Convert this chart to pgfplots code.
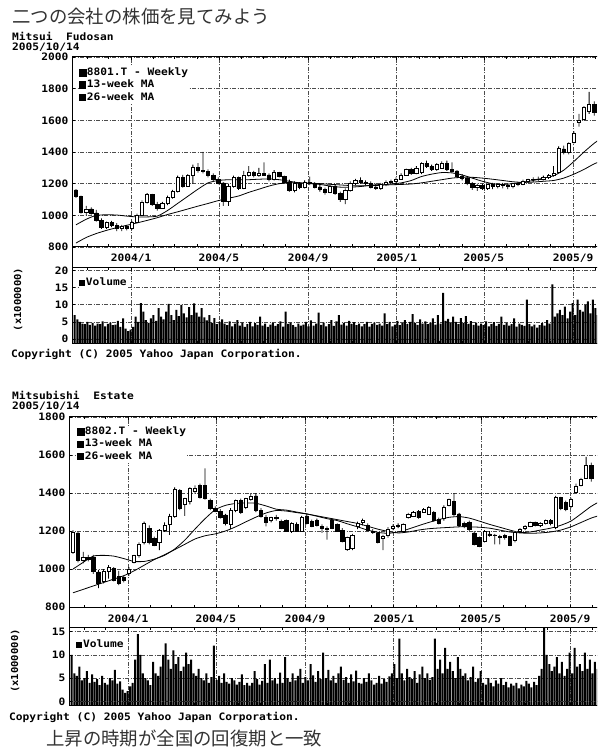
\documentclass[border=0pt]{standalone}
\usepackage{pgfplots}
\pgfplotsset{compat=1.18}
\usepackage{pgfplotstable}
\usepackage{fontspec}
\setmainfont{DejaVu Sans Mono}
\newfontfamily\monof{DejaVu Sans Mono}[FakeStretch=1.1]
\newfontfamily\jp{Noto Sans CJK JP}
\newcommand\mono{\monof\fontsize{10.2}{10.2}\selectfont\bfseries}
\definecolor{gridc}{gray}{0.3}

% ---------- 8801.T weekly candles (open high low close), one row per week from 2003/10/17
\pgfplotstableread{
o h l c
1160 1165 1110 1120
1120 1125 1010 1020
1020 1060 1000 1040
1040 1050 1005 1015
1015 1035 960 970
970 980 915 925
925 960 915 955
955 965 925 935
935 950 900 915
915 940 900 930
930 940 905 915
915 965 910 955
955 1010 950 1000
1000 1095 995 1085
1085 1140 1075 1130
1130 1135 1060 1070
1070 1085 1030 1045
1045 1085 1040 1075
1075 1125 1065 1115
1115 1160 1105 1150
1150 1250 1145 1240
1240 1255 1175 1185
1185 1260 1180 1250
1250 1320 1200 1305
1305 1330 1270 1285
1285 1400 1265 1275
1275 1290 1240 1250
1250 1265 1215 1225
1225 1240 1195 1205
1205 1210 1060 1090
1090 1200 1060 1185
1185 1250 1175 1240
1240 1245 1160 1170
1170 1280 1165 1255
1255 1310 1245 1270
1270 1280 1240 1250
1250 1300 1245 1265
1265 1335 1250 1255
1255 1265 1215 1225
1225 1285 1220 1270
1270 1275 1240 1245
1245 1250 1200 1210
1210 1225 1150 1160
1160 1215 1145 1200
1200 1210 1165 1175
1175 1220 1170 1210
1210 1245 1190 1200
1200 1210 1170 1180
1180 1195 1150 1165
1165 1175 1130 1145
1145 1195 1140 1185
1185 1195 1130 1140
1140 1150 1085 1100
1100 1170 1070 1160
1160 1215 1150 1205
1205 1230 1190 1220
1220 1240 1200 1210
1210 1220 1190 1200
1200 1215 1170 1180
1180 1200 1160 1170
1170 1205 1160 1195
1195 1220 1185 1210
1210 1225 1200 1215
1215 1240 1205 1230
1230 1265 1225 1255
1255 1295 1250 1290
1290 1300 1255 1265
1265 1310 1260 1300
1270 1335 1260 1330
1330 1345 1300 1310
1310 1320 1280 1290
1290 1330 1280 1320
1300 1340 1295 1330
1330 1345 1280 1290
1290 1335 1270 1280
1280 1285 1235 1245
1245 1260 1220 1235
1235 1245 1190 1200
1200 1210 1160 1175
1175 1200 1155 1190
1190 1200 1160 1170
1170 1200 1160 1195
1195 1205 1165 1185
1185 1200 1170 1195
1195 1205 1170 1190
1190 1200 1165 1185
1185 1205 1170 1200
1200 1210 1185 1195
1195 1225 1190 1215
1215 1230 1205 1225
1225 1240 1210 1230
1230 1245 1215 1225
1225 1250 1220 1240
1240 1260 1230 1250
1255 1310 1245 1265
1270 1435 1265 1425
1420 1440 1385 1400
1395 1460 1385 1455
1460 1530 1455 1520
1585 1640 1560 1600
1605 1690 1600 1680
1660 1780 1640 1700
1700 1720 1630 1650
}\mfA

\pgfplotstableread{
k m
0 940
2 975
4 1000
6 1003
8 1002
10 995
12 990
14 990
16 995
18 1030
20 1075
22 1120
24 1165
26 1205
28 1220
30 1225
32 1225
34 1225
36 1228
38 1230
40 1225
42 1215
44 1205
46 1200
48 1195
50 1185
52 1178
54 1178
56 1182
58 1190
60 1195
62 1198
64 1205
66 1220
68 1245
70 1260
72 1270
74 1268
76 1255
78 1235
80 1215
82 1200
84 1195
86 1200
88 1210
90 1220
92 1235
94 1250
96 1285
98 1340
100 1400
102 1455
104 1500
}\mfS

\pgfplotstableread{
k m
0 825
2 860
4 885
6 905
8 922
10 937
12 952
14 968
16 985
18 1005
20 1022
22 1040
24 1058
26 1075
28 1093
30 1108
32 1122
34 1145
36 1165
38 1185
40 1200
42 1205
44 1205
46 1203
48 1200
50 1196
52 1192
54 1188
56 1186
58 1187
60 1190
62 1193
64 1195
66 1198
68 1205
70 1215
72 1225
74 1235
76 1240
78 1240
80 1235
82 1228
84 1220
86 1212
88 1208
90 1210
92 1215
94 1220
96 1235
98 1260
100 1290
102 1325
104 1350
}\mfL

% volume 8801 (millions), two values per week
\pgfplotstableread[header=false,row sep=\\]{
5.5\\4.2\\3.5\\3.0\\2.8\\3.5\\2.6\\3.2\\2.4\\3.0\\
2.8\\3.6\\2.2\\2.9\\3.3\\2.5\\2.7\\3.8\\2.0\\4.5\\
1.5\\0.8\\1.2\\2.0\\5.0\\3.5\\9.0\\6.5\\4.0\\3.2\\
4.5\\5.5\\3.8\\7.5\\5.0\\4.2\\6.5\\8.8\\5.5\\4.0\\
7.0\\5.2\\8.5\\6.0\\4.8\\7.8\\5.5\\8.9\\6.2\\5.0\\
7.5\\4.8\\3.9\\5.5\\3.2\\4.6\\2.8\\3.5\\4.2\\3.0\\
2.5\\3.6\\2.2\\3.0\\4.0\\2.4\\3.3\\2.0\\2.8\\3.5\\
2.2\\3.1\\2.6\\5.0\\2.4\\3.0\\2.0\\2.7\\3.2\\2.3\\
2.8\\3.6\\2.1\\6.5\\2.9\\3.3\\2.5\\2.0\\3.0\\2.4\\
2.7\\3.5\\2.2\\3.9\\2.4\\3.0\\6.2\\2.6\\3.3\\2.2\\
2.8\\4.0\\2.3\\3.6\\5.5\\2.7\\3.2\\2.4\\3.8\\2.9\\
3.4\\2.5\\3.0\\2.2\\2.8\\3.5\\2.1\\2.9\\3.3\\2.6\\
3.0\\2.4\\6.0\\2.8\\3.5\\2.2\\2.7\\3.8\\2.5\\3.1\\
4.0\\2.9\\3.5\\5.8\\3.2\\2.6\\4.2\\3.0\\3.6\\2.8\\
3.3\\4.5\\2.7\\5.5\\3.0\\12.0\\3.8\\4.4\\3.1\\5.0\\
3.5\\2.8\\4.6\\3.2\\5.2\\2.9\\3.7\\2.6\\3.3\\2.4\\
3.0\\2.5\\3.6\\2.2\\2.8\\3.4\\2.3\\2.9\\5.0\\2.6\\
3.2\\2.4\\2.8\\4.5\\2.1\\3.0\\2.6\\2.3\\10.0\\2.8\\
2.2\\2.7\\1.8\\2.5\\3.2\\2.4\\4.0\\3.0\\14.5\\5.0\\
6.0\\7.0\\5.5\\8.0\\4.5\\6.5\\9.0\\5.5\\10.0\\7.0\\
6.5\\8.5\\9.5\\6.0\\10.0\\7.5\\5.5\\8.0\\
}\volA

% ---------- 8802.T weekly candles
\pgfplotstableread{
o h l c
1090 1205 1080 1195
1190 1195 1035 1045
1045 1090 1030 1060
1060 1075 1040 1050
1060 1075 975 990
985 995 900 925
935 1000 925 990
990 1020 950 1010
1005 1010 935 940
960 990 915 925
955 965 930 940
975 1010 965 1000
1035 1075 1030 1070
1070 1140 1060 1130
1140 1250 1130 1240
1215 1230 1130 1140
1160 1170 1120 1125
1140 1210 1100 1205
1205 1245 1195 1230
1235 1290 1180 1275
1275 1430 1270 1420
1415 1420 1310 1320
1340 1375 1280 1370
1355 1430 1340 1425
1410 1440 1395 1425
1440 1450 1370 1380
1440 1530 1365 1370
1360 1370 1310 1318
1320 1330 1300 1305
1305 1315 1265 1270
1285 1290 1230 1240
1235 1320 1210 1310
1310 1365 1300 1360
1360 1370 1290 1300
1325 1375 1315 1370
1365 1400 1360 1385
1385 1400 1300 1310
1310 1320 1270 1280
1270 1285 1225 1245
1255 1275 1245 1270
1270 1285 1255 1265
1250 1260 1210 1215
1255 1260 1195 1200
1200 1245 1190 1240
1235 1245 1195 1200
1200 1280 1195 1270
1280 1290 1235 1240
1250 1260 1220 1225
1255 1265 1225 1230
1225 1235 1190 1215
1215 1225 1155 1210
1255 1265 1210 1215
1235 1240 1195 1200
1205 1215 1140 1145
1105 1170 1095 1165
1110 1185 1100 1180
1225 1250 1210 1240
1245 1265 1230 1255
1230 1240 1200 1205
1200 1210 1185 1195
1190 1195 1135 1140
1160 1180 1100 1170
1175 1220 1165 1210
1215 1235 1205 1225
1225 1240 1215 1230
1200 1240 1195 1235
1270 1295 1265 1290
1280 1305 1275 1300
1305 1310 1265 1270
1300 1320 1295 1315
1290 1330 1285 1325
1300 1305 1250 1255
1260 1270 1235 1240
1265 1335 1255 1325
1335 1370 1330 1365
1355 1400 1280 1290
1290 1295 1220 1230
1240 1250 1215 1225
1245 1255 1200 1210
1190 1200 1125 1130
1165 1170 1115 1120
1145 1205 1140 1200
1185 1200 1170 1175
1180 1185 1130 1175
1170 1180 1130 1165
1175 1185 1155 1165
1170 1175 1120 1125
1150 1200 1140 1195
1200 1215 1195 1210
1215 1230 1205 1225
1225 1250 1220 1245
1245 1250 1225 1230
1230 1245 1220 1240
1240 1260 1235 1255
1255 1262 1230 1240
1220 1385 1210 1380
1375 1380 1310 1320
1350 1360 1305 1315
1330 1375 1320 1365
1405 1450 1400 1435
1440 1480 1435 1470
1480 1590 1475 1545
1545 1560 1460 1475
}\meA

\pgfplotstableread{
k m
0 1000
2 1035
4 1068
6 1072
8 1068
10 1055
12 1040
14 1040
16 1052
18 1072
20 1105
22 1152
24 1210
26 1265
28 1312
30 1335
32 1345
34 1348
36 1346
38 1332
40 1315
42 1310
44 1300
46 1290
48 1278
50 1265
52 1255
54 1238
56 1222
58 1205
60 1193
62 1188
64 1195
66 1210
68 1228
70 1245
72 1260
74 1272
76 1276
78 1268
80 1252
82 1235
84 1220
86 1205
88 1192
90 1195
92 1205
94 1215
96 1230
98 1252
100 1290
102 1330
104 1360
}\meS

\pgfplotstableread{
k m
0 875
2 893
4 911
6 929
8 947
10 965
12 990
14 1020
16 1050
18 1075
20 1102
22 1130
24 1158
26 1175
28 1185
30 1200
32 1222
34 1248
36 1273
38 1295
40 1308
42 1305
44 1297
46 1290
48 1280
50 1270
52 1260
54 1250
56 1240
58 1225
60 1210
62 1198
64 1190
66 1195
68 1205
70 1212
72 1216
74 1219
76 1222
78 1222
80 1220
82 1215
84 1205
86 1195
88 1190
90 1188
92 1190
94 1195
96 1205
98 1222
100 1245
102 1268
104 1285
}\meL

\pgfplotstableread[header=false,row sep=\\]{
9.0\\5.0\\4.5\\6.5\\3.5\\4.0\\5.5\\3.0\\4.8\\3.2\\
3.8\\2.5\\4.5\\3.0\\2.6\\4.0\\3.5\\5.8\\2.8\\3.3\\
1.5\\0.8\\1.2\\2.2\\3.0\\8.0\\13.5\\9.0\\5.0\\4.0\\
3.5\\2.5\\7.5\\5.0\\4.5\\6.5\\9.0\\11.5\\8.0\\6.0\\
10.0\\7.0\\8.5\\5.5\\6.5\\9.5\\7.0\\8.0\\5.0\\4.5\\
6.0\\4.0\\3.5\\5.0\\3.0\\4.2\\11.0\\3.6\\4.5\\3.0\\
5.0\\3.2\\2.8\\4.0\\3.5\\2.6\\3.2\\4.8\\2.5\\3.0\\
2.4\\3.0\\5.5\\3.8\\2.6\\3.4\\7.0\\3.0\\8.0\\3.5\\
4.0\\2.8\\5.2\\3.0\\8.5\\4.0\\3.2\\5.0\\3.5\\4.5\\
6.0\\3.0\\4.2\\3.5\\7.0\\4.6\\3.2\\5.5\\3.8\\9.5\\
4.0\\5.8\\3.5\\4.5\\3.0\\5.0\\6.5\\3.6\\4.2\\3.0\\
4.8\\3.3\\5.6\\3.0\\2.8\\4.0\\3.2\\5.0\\3.5\\2.6\\
3.0\\4.5\\2.8\\3.8\\3.2\\4.4\\5.0\\7.0\\4.0\\12.5\\
5.0\\3.5\\6.0\\4.2\\3.8\\5.5\\3.0\\4.8\\6.5\\4.0\\
5.0\\3.6\\4.2\\12.5\\6.0\\8.0\\5.0\\10.5\\6.0\\7.5\\
5.5\\4.0\\8.5\\6.0\\4.5\\5.0\\3.5\\4.2\\6.5\\3.2\\
3.8\\5.5\\3.0\\2.6\\4.0\\3.0\\2.2\\3.5\\2.8\\4.0\\
2.5\\3.2\\2.0\\2.8\\2.4\\3.0\\1.8\\2.6\\2.2\\3.4\\
2.8\\2.0\\3.2\\2.5\\4.5\\6.0\\15.0\\9.0\\7.0\\5.5\\
6.5\\8.5\\5.0\\7.5\\4.5\\6.0\\9.5\\5.0\\10.5\\6.5\\
7.0\\5.5\\9.5\\6.0\\8.0\\5.0\\7.5\\6.0\\
}\volB

\pgfplotsset{
  sqleg/.style={legend image code/.code={\fill[black] (0pt,-3.2pt) rectangle (6.5pt,3.2pt);}},
  chart/.style={
    scale only axis,
    axis line style={line width=1pt,black},
    tick label style={font=\mono},
    /pgf/number format/assume math mode=true,
    /pgf/number format/set thousands separator={},
    grid=major,
    major grid style={gridc, line width=0.6pt, dash pattern=on 4pt off 1.5pt on 1pt off 1.5pt},
    xtick={10.86,28.14,45.71,63.14,80.29,97.86},
    minor xtick={2.14,6.43,15.29,19.43,23.86,32.57,36.86,41.29,50,54.43,58.71,67.57,71.57,76,84.71,89,93.43,102.14},
    major tick length=3pt, minor tick length=2.5pt,
    tick style={black, line width=0.6pt},
    xmin=-0.79,
    sqleg,
    /pgfplots/ybar legend/.style={sqleg},
    legend cell align=left,
    legend style={draw=none, fill=white, inner sep=0pt, outer sep=0pt, row sep=0pt,
      font=\mono, anchor=north west,
      nodes={inner sep=0.6pt, text height=8.4pt, text depth=2.8pt}},
  },
  pricelabels/.style={xticklabels={2004/1,2004/5,2004/9,2005/1,2005/5,2005/9},
    xticklabel style={yshift=-3pt}},
  nolabels/.style={xticklabels={}},
  overlay/.style={scale only axis, axis lines=none, ticks=none, ybar stacked, xmin=-0.79},
  ma/.style={black, line width=0.8pt, smooth, tension=0.4, mark=none},
}

\begin{document}
\begin{tikzpicture}
\path[use as bounding box] (0,0) rectangle (597pt,751pt);
\clip (0,0) rectangle (597pt,751pt);

% ================= Mitsui Fudosan price
\begin{axis}[chart, pricelabels, at={(72pt,694pt)}, anchor=north west,
  width=530pt, height=190pt, xmax=103.54, ymin=800, ymax=2000,
  ytick={800,1000,...,2000},
  legend style={at={(axis description cs:0.0132,0.95)}}]
\addlegendimage{black}
\addlegendentry{8801.T - Weekly}
\addplot[ma] table[x=k, y=m] {\mfS};
\addlegendentry{13-week MA}
\addplot[ma] table[x=k, y=m] {\mfL};
\addlegendentry{26-week MA}
\end{axis}
% wicks (low to high)
\begin{axis}[overlay, bar width=0.8pt, at={(72pt,694pt)}, anchor=north west,
  width=530pt, height=190pt, xmax=103.54, ymin=800, ymax=2000]
\addplot[draw=none, fill=none] table[x expr=\coordindex, y=l] {\mfA};
\addplot[draw=none, fill=black] table[x expr=\coordindex, y expr={\thisrow{h}-\thisrow{l}}] {\mfA};
\end{axis}
% bodies (open to close)
\begin{axis}[overlay, bar width=3.3pt, at={(72pt,694pt)}, anchor=north west,
  width=530pt, height=190pt, xmax=103.54, ymin=800, ymax=2000]
\addplot[draw=none, fill=none] table[x expr=\coordindex, y expr={min(\thisrow{o},\thisrow{c})}] {\mfA};
\addplot[draw=black, fill=white, line width=0.6pt] table[x expr=\coordindex, y expr={max(\thisrow{c}-\thisrow{o},0)}] {\mfA};
\addplot[draw=black, fill=black, line width=0.6pt] table[x expr=\coordindex, y expr={max(\thisrow{o}-\thisrow{c},0)}] {\mfA};
\end{axis}

% ================= Mitsui Fudosan volume
\begin{axis}[chart, nolabels, ybar stacked, bar width=2pt, at={(72pt,483pt)}, anchor=north west,
  width=530pt, height=76pt, xmax=103.54, ymin=-1.5, ymax=20.8,
  ytick={0,5,10,15,20},
  legend style={at={(axis description cs:0.013,0.883)}}]
\addplot[fill=black, draw=none, forget plot] table[x expr=\coordindex/2-0.25, y index=0, y expr=-1.5] {\volA};
\addplot[fill=black, draw=none, sqleg] table[x expr=\coordindex/2-0.25, y index=0, y expr=\thisrowno{0}+1.5] {\volA};
\addlegendentry{Volume}
\end{axis}

% ================= Mitsubishi Estate price
\begin{axis}[chart, pricelabels, at={(69pt,334pt)}, anchor=north west,
  width=533pt, height=191pt, xmax=104.13, ymin=795, ymax=1800,
  ytick={800,1000,...,1800},
  legend style={at={(axis description cs:0.015,0.955)}}]
\addlegendimage{black}
\addlegendentry{8802.T - Weekly}
\addplot[ma] table[x=k, y=m] {\meS};
\addlegendentry{13-week MA}
\addplot[ma] table[x=k, y=m] {\meL};
\addlegendentry{26-week MA}
\end{axis}
\begin{axis}[overlay, bar width=0.8pt, at={(69pt,334pt)}, anchor=north west,
  width=533pt, height=191pt, xmax=104.13, ymin=795, ymax=1800]
\addplot[draw=none, fill=none] table[x expr=\coordindex, y=l] {\meA};
\addplot[draw=none, fill=black] table[x expr=\coordindex, y expr={\thisrow{h}-\thisrow{l}}] {\meA};
\end{axis}
\begin{axis}[overlay, bar width=3.3pt, at={(69pt,334pt)}, anchor=north west,
  width=533pt, height=191pt, xmax=104.13, ymin=795, ymax=1800]
\addplot[draw=none, fill=none] table[x expr=\coordindex, y expr={min(\thisrow{o},\thisrow{c})}] {\meA};
\addplot[draw=black, fill=white, line width=0.6pt] table[x expr=\coordindex, y expr={max(\thisrow{c}-\thisrow{o},0)}] {\meA};
\addplot[draw=black, fill=black, line width=0.6pt] table[x expr=\coordindex, y expr={max(\thisrow{o}-\thisrow{c},0)}] {\meA};
\end{axis}

% ================= Mitsubishi Estate volume
\begin{axis}[chart, nolabels, ybar stacked, bar width=2pt, at={(69pt,123pt)}, anchor=north west,
  width=533pt, height=78pt, xmax=104.13, ymin=-1, ymax=15.8,
  ytick={0,5,10,15},
  legend style={at={(axis description cs:0.013,0.86)}}]
\addplot[fill=black, draw=none, forget plot] table[x expr=\coordindex/2-0.25, y index=0, y expr=-1] {\volB};
\addplot[fill=black, draw=none, sqleg] table[x expr=\coordindex/2-0.25, y index=0, y expr=\thisrowno{0}+1] {\volB};
\addlegendentry{Volume}
\end{axis}

% strips between price and volume panels
\draw[line width=1pt] (72pt,504pt) -- (72pt,483pt);
\draw[line width=1pt] (69pt,143pt) -- (69pt,123pt);

% texts
\node[anchor=west, inner sep=0pt, text=black!80, font=\jp\fontsize{18.4}{18.4}\selectfont] at (12pt,734pt) {二つの会社の株価を見てみよう};
\node[anchor=base west, inner sep=0pt, text height=7.4pt, text depth=0.4pt, font=\mono] at (12pt,710.3pt) {Mitsui\ \ Fudosan};
\node[anchor=base west, inner sep=0pt, text height=7.4pt, text depth=0.4pt, font=\mono] at (12pt,700.8pt) {2005/10/14};
\node[anchor=base west, inner sep=0pt, font=\mono] at (11pt,393pt) {Copyright (C) 2005 Yahoo Japan Corporation.};
\node[rotate=90, inner sep=0pt, font=\monof\fontsize{9.6}{9.6}\selectfont\bfseries] at (18pt,451.5pt) {(x1000000)};
\node[anchor=base west, inner sep=0pt, text height=7.4pt, text depth=0.4pt, font=\mono] at (12pt,351.7pt) {Mitsubishi\ \ Estate};
\node[anchor=base west, inner sep=0pt, text height=7.4pt, text depth=0.4pt, font=\mono] at (12pt,341pt) {2005/10/14};
\node[anchor=base west, inner sep=0pt, font=\mono] at (9pt,30.5pt) {Copyright (C) 2005 Yahoo Japan Corporation.};
\node[rotate=90, inner sep=0pt, font=\monof\fontsize{9.6}{9.6}\selectfont\bfseries] at (15pt,90pt) {(x1000000)};
\node[anchor=west, inner sep=0pt, text=black!80, font=\jp\fontsize{18.4}{18.4}\selectfont] at (46pt,12.6pt) {上昇の時期が全国の回復期と一致};
\end{tikzpicture}
\end{document}
